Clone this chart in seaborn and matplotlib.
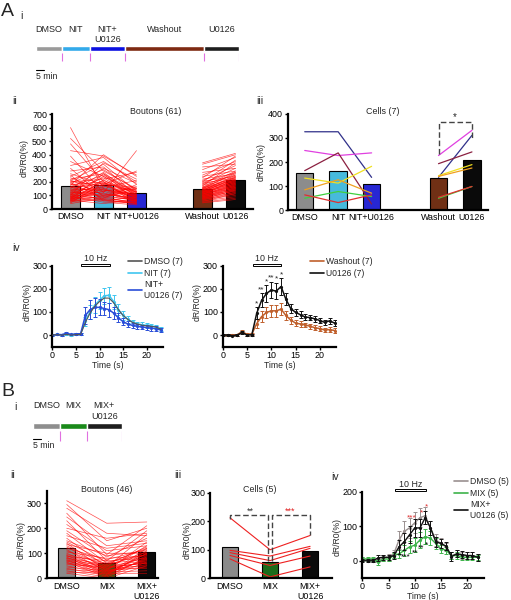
import matplotlib
matplotlib.use('Agg')
import matplotlib.pyplot as plt
from matplotlib.patches import Rectangle
from matplotlib.lines import Line2D
import numpy as np
import pandas as pd
import seaborn as sns

# ---------------- data ----------------
# A i / B i : protocol timelines (minutes)
a_steps = ['DMSO', 'NIT', 'NIT+\nU0126', 'Washout', 'U0126']
a_step_min = [17, 18, 23, 52, 23]
a_step_colors = ['#9a9a9a', '#33aaea', '#0a10e0', '#7e2a12', '#1e1e1e']
b_steps = ['DMSO', 'MIX', 'MIX+\nU0126']
b_step_min = [17.5, 17.5, 23]
b_step_colors = ['#8e8e8e', '#1a8a1a', '#1e1e1e']

# A ii : boutons (61), dR/R0 (%)
a_conditions = ['DMSO', 'NIT', 'NIT+U0126', 'Washout', 'U0126']
a_order = ['DMSO', 'NIT', 'NIT+U0126', '', 'Washout', 'U0126']
a_bar_colors = ['#8c8c8c', '#2ec8f5', '#0a0af0', '#7f2a06', '#0a0a0a']
a_dmso = [600, 520, 480, 430, 390, 350, 320, 300, 280, 260, 250, 240, 230, 220, 215, 210,
          205, 200, 195, 190, 185, 180, 175, 170, 165, 160, 155, 150, 145, 140, 135, 130,
          125, 120, 118, 115, 110, 108, 105, 100, 98, 95, 92, 90, 88, 85, 82, 80, 78, 75,
          72, 70, 68, 65, 62, 60, 58, 55, 50, 45, 40]
a_nit = [150, 280, 200, 390, 120, 240, 380, 90, 310, 180, 60, 350, 140, 260, 100, 330,
         170, 220, 75, 290, 130, 200, 400, 110, 250, 85, 190, 300, 140, 60, 230, 160,
         95, 270, 120, 180, 70, 210, 150, 340, 105, 50, 165, 240, 130, 80, 200, 145, 60,
         115, 260, 90, 175, 40, 135, 215, 70, 155, 100, 190, 80]
a_nit_u = [90, 150, 60, 250, 430, 120, 180, 70, 100, 280, 45, 200, 110, 60, 165, 130,
           85, 270, 55, 140, 95, 35, 240, 80, 120, 150, 60, 190, 100, 45, 75, 210,
           130, 90, 55, 160, 40, 115, 70, 220, 85, 30, 140, 100, 60, 180, 110, 50, 90,
           70, 125, 40, 95, 65, 150, 80, 35, 105, 60, 130, 50]
a_wash = [340, 330, 310, 290, 270, 250, 240, 230, 220, 210, 205, 200, 195, 190, 185, 180,
          175, 170, 165, 160, 158, 155, 152, 150, 148, 145, 142, 140, 138, 135, 132, 130,
          128, 125, 122, 120, 118, 115, 112, 110, 108, 105, 102, 100, 98, 95, 92, 90, 88,
          85, 82, 80, 78, 75, 72, 70, 65, 60, 55, 50, 45]
a_u0126 = [410, 400, 330, 380, 300, 350, 280, 390, 260, 320, 240, 360, 270, 230, 300, 250,
           220, 340, 210, 280, 200, 260, 230, 190, 270, 215, 180, 240, 205, 250, 170, 225,
           195, 160, 235, 185, 210, 150, 200, 175, 165, 220, 140, 190, 155, 180, 130, 170,
           145, 160, 120, 150, 135, 110, 140, 100, 125, 90, 115, 80, 70]

# A iii : cells (7)
a_cell_colors = ['#30308a', '#e040e0', '#8b2040', '#f0e020', '#f0a020', '#40d040', '#e03030']
a_cell_dmso = [326, 248, 164, 133, 84, 49, 63]
a_cell_nit = [326, 227, 238, 112, 126, 77, 31]
a_cell_nit_u = [136, 238, 25, 182, 70, 56, 63]
a_cell_wash = [136, 227, 193, 143, 140, 49, 53]
a_cell_u0126 = [311, 332, 242, 189, 175, 98, 98]

# A iv : time courses, mean and SEM, dR/R0 (%)
t_a = list(range(24))
a_tr_dmso = [0, 2, 0, 3, 0, 2, 3, 55, 95, 125, 145, 160, 160, 140, 110, 85, 68, 55, 48, 43, 40, 38, 35, 25]
a_tr_nit = [0, 3, 1, 5, 2, 4, 5, 60, 100, 130, 150, 170, 172, 145, 110, 85, 68, 55, 48, 45, 42, 40, 35, 28]
a_tr_nit_sem = [5, 4, 4, 5, 4, 4, 5, 20, 30, 35, 35, 35, 35, 30, 25, 20, 15, 12, 10, 10, 10, 10, 10, 8]
a_tr_nitu = [0, 3, 2, 8, 3, 5, 6, 85, 110, 120, 120, 115, 110, 95, 75, 58, 48, 42, 38, 35, 33, 30, 28, 22]
a_tr_nitu_sem = [5, 4, 4, 5, 4, 4, 5, 35, 40, 40, 35, 30, 30, 25, 20, 15, 12, 10, 10, 10, 10, 10, 10, 8]
a_tr_wash = [0, 0, 0, 2, 15, 3, 5, 50, 80, 98, 105, 105, 112, 85, 65, 52, 48, 44, 38, 32, 28, 22, 24, 20]
a_tr_wash_sem = [3, 3, 3, 4, 6, 5, 5, 20, 25, 25, 25, 25, 25, 20, 15, 12, 12, 10, 10, 10, 10, 10, 10, 10]
a_tr_u = [0, 0, -2, 0, 12, 0, 2, 95, 150, 180, 195, 190, 210, 155, 115, 98, 88, 78, 76, 70, 63, 55, 62, 52]
a_tr_u_sem = [3, 3, 3, 4, 6, 5, 5, 25, 30, 35, 35, 35, 35, 25, 20, 15, 15, 12, 12, 12, 12, 12, 12, 12]
a_star_t = [7, 8, 9, 10, 11, 12]
a_star_txt = ['*', '**', '*', '**', '*', '*']

# B ii : boutons (46)
b_conditions = ['DMSO', 'MIX', 'MIX+U0126']
b_ticklabels = ['DMSO', 'MIX', 'MIX+\nU0126']
b_bar_colors = ['#8a8a8a', '#0d7a0d', '#0a0a0a']
b_dmso = [310, 295, 280, 260, 245, 230, 215, 200, 190, 180, 170, 160, 150, 145, 140, 135,
          130, 125, 120, 115, 110, 105, 100, 95, 92, 90, 88, 85, 82, 80, 78, 75, 72, 70,
          68, 65, 62, 60, 55, 50, 45, 40, 35, 30, 25, 20]
b_mix = [220, 150, 180, 95, 130, 70, 110, 160, 85, 60, 120, 45, 90, 65, 30, 100, 55, 40,
         75, 25, 50, 80, 35, 60, 20, 45, 70, 15, 40, 55, 30, 10, 50, 25, 40, 5, 35, 20,
         45, 15, 30, 10, 25, 5, 20, 0]
b_mix_u = [225, 200, 170, 210, 150, 190, 130, 180, 160, 120, 140, 175, 110, 95, 145, 100,
           125, 85, 115, 70, 105, 90, 130, 75, 100, 60, 80, 120, 65, 95, 55, 110, 70, 90,
           50, 85, 40, 75, 60, 100, 45, 80, 30, 65, 20, 50]

# B iii : cells (5)
b_cell_dmso = [212, 98, 90, 80, 68]
b_cell_mix = [100, 78, 62, 45, 5]
b_cell_mix_u = [150, 112, 105, 78, 40]

# B iv : time courses
t_b = list(range(23))
b_tr_dmso = [5, 3, 2, 0, 8, 10, 20, 60, 85, 95, 110, 125, 130, 95, 60, 50, 40, 15, 20, 15, 15, 15, 10]
b_tr_dmso_sem = [5, 5, 5, 5, 8, 10, 12, 25, 30, 30, 30, 28, 25, 20, 18, 15, 12, 10, 10, 10, 10, 10, 10]
b_tr_mix = [5, 5, 5, -5, 5, 5, 15, 20, 30, 40, 45, 60, 70, 65, 50, 35, 30, 15, 15, 10, 10, 10, 10]
b_tr_mix_sem = [5, 5, 5, 6, 6, 6, 8, 12, 15, 18, 20, 22, 22, 20, 15, 12, 10, 10, 10, 8, 8, 8, 8]
b_tr_mixu = [0, 0, 0, 8, 10, 10, 15, 40, 55, 75, 95, 95, 125, 95, 55, 50, 42, 12, 20, 18, 15, 15, 10]
b_tr_mixu_sem = [5, 5, 5, 8, 8, 8, 10, 20, 25, 25, 25, 25, 20, 20, 15, 12, 12, 12, 10, 10, 10, 10, 10]

# ---------------- figure ----------------
sns.set_theme(style='ticks')
plt.rcParams['font.family'] = ['Liberation Sans', 'DejaVu Sans']

W, H = 511, 600
PX_PER_MIN = 1.53
PINK = '#e070e0'
FS = 6.4

fig = plt.figure(figsize=(W / 100, H / 100), dpi=100)


def add_ax(x0, y0, x1, y1):
    return fig.add_axes([x0 / W, 1 - y1 / H, (x1 - x0) / W, (y1 - y0) / H])


def ftext(x, y, s, **kw):
    kw.setdefault('ha', 'center')
    kw.setdefault('va', 'center')
    kw.setdefault('fontsize', FS)
    fig.text(x / W, 1 - y / H, s, **kw)


def style_axes(ax):
    sns.despine(ax=ax)
    for side in ['left', 'bottom']:
        ax.spines[side].set_linewidth(1.6)
        ax.spines[side].set_color('black')
    ax.tick_params(axis='both', labelsize=FS, width=1, length=2.5, pad=1, colors='black')
    ax.set_facecolor('none')
    ax.set_xlabel('')
    ax.set_ylabel('')


def timeline(x0, ytop, ybot, steps, minutes, colors, bar_y, label_y, tick_y, scale_y):
    total = sum(minutes)
    ax = add_ax(x0, ytop, x0 + total * PX_PER_MIN, ybot)
    ax.set_xlim(0, total)
    ax.set_ylim(ybot, ytop)
    ax.axis('off')
    starts = np.concatenate([[0], np.cumsum(minutes)[:-1]])
    ax.barh(bar_y, minutes, left=starts, height=5.3, color=colors)
    ax.vlines(np.cumsum(minutes), tick_y[0], tick_y[1], color=PINK, lw=0.8)
    for s, d, lab in zip(starts, minutes, steps):
        ax.text(s + d / 2, label_y, lab, ha='center', va='top', fontsize=6.5, linespacing=1.25)
    ax.plot([0, 5], [scale_y, scale_y], color='black', lw=0.8)
    ax.text(0, scale_y + 1.5, '5 min', ha='left', va='top', fontsize=6.3)


def long_df(conditions, lists, pos):
    rows = []
    for cond, vals in zip(conditions, lists):
        for i, v in enumerate(vals):
            rows.append((cond, i, v, pos[cond]))
    return pd.DataFrame(rows, columns=['cond', 'id', 'val', 'pos'])


def bars(ax, df, order, colors, width):
    pal = dict(zip(df['cond'].unique(), colors))
    sns.barplot(data=df, x='cond', y='val', order=order, hue='cond', palette=pal,
                errorbar=None, width=width, edgecolor='black', linewidth=0.8,
                legend=False, ax=ax)


# ---------- panel letters ----------
ftext(1, 12, 'A', fontsize=14, ha='left')
ftext(20, 16, 'i', fontsize=7.5, ha='left')
ftext(1, 391, 'B', fontsize=14, ha='left')
ftext(14, 407, 'i', fontsize=7.5, ha='left')
for x, y, s in [(12, 101, 'ii'), (256, 101, 'iii'), (12, 248, 'iv'),
                (10, 475, 'ii'), (174, 475, 'iii'), (331, 477, 'iv')]:
    ftext(x, y, s, fontsize=7.5, ha='left')

# ---------- A i ----------
timeline(36, 20, 82, a_steps, a_step_min, a_step_colors,
         bar_y=48.3, label_y=24.5, tick_y=(53, 61), scale_y=70.5)

# ---------- B i ----------
timeline(33, 400, 452, b_steps, b_step_min, b_step_colors,
         bar_y=426, label_y=401.5, tick_y=(431, 441), scale_y=439.5)

# ---------- A ii ----------
a_pos = {c: a_order.index(c) for c in a_conditions}
df_ab = long_df(a_conditions, [a_dmso, a_nit, a_nit_u, a_wash, a_u0126], a_pos)
df_ab['unit'] = np.where(df_ab['pos'] < 3, df_ab['id'], df_ab['id'] + 1000)
ax = add_ax(52, 114, 253, 209)
bars(ax, df_ab, a_order, a_bar_colors, 0.55)
sns.lineplot(data=df_ab, x='pos', y='val', units='unit', estimator=None, color='red',
             lw=0.5, alpha=0.7, sort=False, legend=False, ax=ax)
ax.set_xlim(-0.56, 5.53)
ax.set_ylim(0, 700)
ax.set_yticks(range(0, 701, 100))
ax.set_xticks(range(len(a_order)), a_order)
style_axes(ax)
ax.tick_params(axis='x', length=0, pad=2.5)
ftext(156, 112, 'Boutons (61)')
ftext(24, 158, 'dR/R0(%)', rotation=90, fontsize=6.2)

# ---------- A iii ----------
df_ac = long_df(a_conditions, [a_cell_dmso, a_cell_nit, a_cell_nit_u, a_cell_wash, a_cell_u0126], a_pos)
df_ac['unit'] = np.where(df_ac['pos'] < 3, df_ac['id'], df_ac['id'] + 1000)
df_ac['cell'] = df_ac['id'].astype(str)
ax = add_ax(288, 114, 488, 210)
bars(ax, df_ac, a_order, a_bar_colors, 0.52)
sns.lineplot(data=df_ac, x='pos', y='val', units='unit', hue='cell', palette=a_cell_colors,
             estimator=None, lw=0.9, sort=False, legend=False, ax=ax)
ax.plot([4, 4, 5, 5], [232, 365, 365, 296], ls=(0, (4, 2)), color='#444444', lw=1)
ax.text(4.5, 366, '*', ha='center', va='bottom', fontsize=7)
ax.set_xlim(-0.5, 5.48)
ax.set_ylim(0, 400)
ax.set_yticks(range(0, 401, 100))
ax.set_xticks(range(len(a_order)), a_order)
style_axes(ax)
ax.tick_params(axis='x', length=0, pad=2.5)
ftext(383, 112, 'Cells (7)')
ftext(261, 162, 'dR/R0(%)', rotation=90, fontsize=6.2)


# ---------- time-course panels ----------
def trace_panel(box, t, series, xlim, ylim, yticks, stim, stim_h, legend_xy):
    ax = add_ax(*box)
    handles = []
    for mean, sem, color, lw, label in series:
        if sem is not None:
            ax.errorbar(t, mean, yerr=sem, fmt='none', ecolor=color, elinewidth=0.7,
                        capsize=1.3, capthick=0.7)
            sns.lineplot(x=t, y=mean, color=color, lw=lw, marker='o', markersize=2.3,
                         markeredgewidth=0, ax=ax)
        else:
            sns.lineplot(x=t, y=mean, color=color, lw=lw, zorder=4, ax=ax)
        handles.append(Line2D([], [], color=color, lw=1.2, label=label))
    ax.set_xlim(*xlim)
    ax.set_ylim(*ylim)
    ax.set_yticks(yticks)
    ax.set_xticks([0, 5, 10, 15, 20])
    style_axes(ax)
    ax.tick_params(axis='x', pad=0.5)
    ax.set_xlabel('Time (s)', fontsize=6.2, labelpad=0.5)
    top = ylim[1]
    ax.add_patch(Rectangle((stim[0], top + stim_h * 0.1), stim[1] - stim[0], stim_h,
                           fill=False, ec='black', lw=0.7, clip_on=False))
    ax.text((stim[0] + stim[1]) / 2, top + stim_h * 1.25, '10 Hz', ha='center',
            va='bottom', fontsize=FS)
    ax.legend(handles=handles, loc='upper left',
              bbox_to_anchor=(legend_xy[0] / W, 1 - legend_xy[1] / H),
              bbox_transform=fig.transFigure, frameon=False, fontsize=6.2,
              handlelength=1.6, handletextpad=0.3, labelspacing=0.3,
              borderaxespad=0, borderpad=0)
    return ax


# A iv left
trace_panel((52.3, 265.7, 163, 346.7), t_a,
            [(a_tr_dmso, None, '#555555', 0.8, 'DMSO (7)'),
             (a_tr_nit, a_tr_nit_sem, '#3fc6f0', 1.1, 'NIT (7)'),
             (a_tr_nitu, a_tr_nitu_sem, '#2a4ed8', 1.1, 'NIT+\nU0126 (7)')],
            (0, 23.45), (-50, 300), [0, 100, 200, 300], (6, 12.2), 8, (128, 257))
ftext(27, 302, 'dR/R0(%)', rotation=90, fontsize=6.2)

# A iv right
ax = trace_panel((222.7, 265.7, 336, 346.7), t_a,
                 [(a_tr_wash, a_tr_wash_sem, '#c0602c', 1.1, 'Washout (7)'),
                  (a_tr_u, a_tr_u_sem, '#111111', 1.1, 'U0126 (7)')],
                 (0, 23.3), (-50, 300), [0, 100, 200, 300], (6.2, 12), 8, (310, 257))
for tt, s in zip(a_star_t, a_star_txt):
    ax.text(tt, a_tr_u[tt] + a_tr_u_sem[tt] + 2, s, ha='center', va='bottom',
            fontsize=6, linespacing=0.6)
ftext(197, 302, 'dR/R0(%)', rotation=90, fontsize=6.2)

# ---------- B ii ----------
b_pos = {c: i for i, c in enumerate(b_conditions)}
df_bb = long_df(b_conditions, [b_dmso, b_mix, b_mix_u], b_pos)
ax = add_ax(46.7, 490.7, 158, 578.3)
bars(ax, df_bb, b_conditions, b_bar_colors, 0.42)
sns.lineplot(data=df_bb, x='pos', y='val', units='id', estimator=None, color='red',
             lw=0.5, alpha=0.7, sort=False, legend=False, ax=ax)
ax.set_xlim(-0.5, 2.28)
ax.set_ylim(0, 350)
ax.set_yticks([0, 100, 200, 300])
ax.set_xticks(range(3), b_ticklabels)
style_axes(ax)
ax.tick_params(axis='x', length=0, pad=2.5)
ftext(107, 490, 'Boutons (46)')
ftext(21, 540, 'dR/R0(%)', rotation=90, fontsize=6.2)

# ---------- B iii ----------
df_bc = long_df(b_conditions, [b_cell_dmso, b_cell_mix, b_cell_mix_u], b_pos)
ax = add_ax(210, 492.7, 331.7, 578.3)
bars(ax, df_bc, b_conditions, b_bar_colors, 0.42)
sns.lineplot(data=df_bc, x='pos', y='val', units='id', estimator=None, color='#ee2020',
             lw=0.8, sort=False, legend=False, ax=ax)
dash = (0, (4, 2))
ax.plot([0, 0, 0.96, 0.96], [208, 221, 221, 62], ls=dash, color='#444444', lw=1)
ax.plot([1.04, 1.04, 2, 2], [62, 221, 221, 152], ls=dash, color='#444444', lw=1)
ax.text(0.5, 218, '**', ha='center', va='bottom', fontsize=6.5, color='#333333')
ax.text(1.5, 218, '***', ha='center', va='bottom', fontsize=6.5, color='#e02020')
ax.set_xlim(-0.5, 2.54)
ax.set_ylim(0, 300)
ax.set_yticks([0, 100, 200, 300])
ax.set_xticks(range(3), b_ticklabels)
style_axes(ax)
ax.tick_params(axis='x', length=0, pad=2.5)
ftext(260, 490, 'Cells (5)')
ftext(187, 540, 'dR/R0(%)', rotation=90, fontsize=6.2)

# ---------- B iv ----------
ax = trace_panel((362.3, 491.7, 484, 578), t_b,
                 [(b_tr_dmso, b_tr_dmso_sem, '#9a9090', 1.0, 'DMSO (5)'),
                  (b_tr_mix, b_tr_mix_sem, '#3db34a', 1.0, 'MIX (5)'),
                  (b_tr_mixu, b_tr_mixu_sem, '#111111', 1.0, 'MIX+\nU0126 (5)')],
                 (0, 23.2), (-50, 200), [0, 100, 200], (6.2, 12.2), 6, (454, 477))
for tt, yy, s, c in [(8.3, 2, '***', 'black'), (10.1, 12, '**', 'black'),
                     (11.2, 26, '**', 'black'), (12.3, 35, '*', 'black'),
                     (9.4, 114, '***', '#e03030'), (11.2, 128, '*', '#e03030'),
                     (12.3, 145, '*', '#e03030')]:
    ax.text(tt, yy, s, ha='center', va='bottom', fontsize=6, color=c)
ftext(337, 537, 'dR/R0(%)', rotation=90, fontsize=6.2)

fig.savefig('out.png', dpi=100)
